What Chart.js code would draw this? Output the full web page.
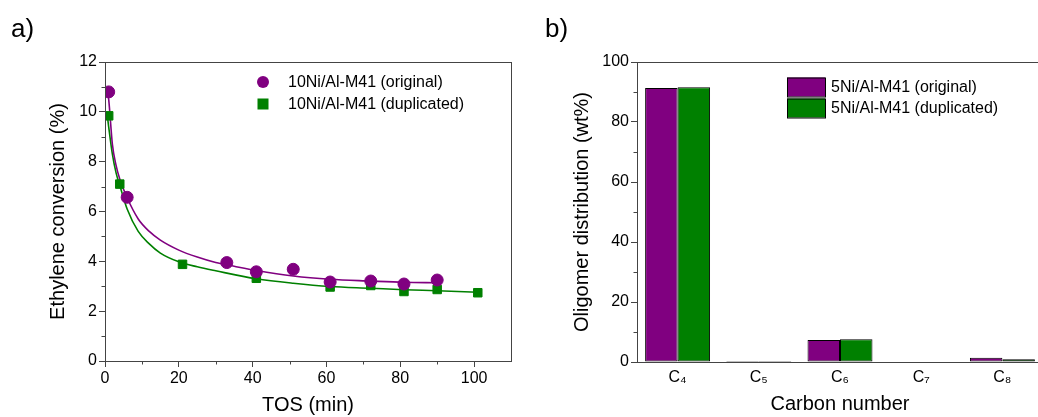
<!DOCTYPE html>
<html>
<head>
<meta charset="utf-8">
<script src="https://cdn.jsdelivr.net/npm/chart.js@4/dist/chart.umd.min.js"></script>
<style>
  html, body { margin: 0; padding: 0; background: #fff; overflow: hidden; width: 1038px; height: 417px; }
  #wrapA { position: absolute; left: 0; top: 0; width: 520px; height: 417px; }
  #wrapB { position: absolute; left: 520px; top: 0; width: 530px; height: 417px; }
  .panel { position: absolute; font-family: "Liberation Sans", Arial, sans-serif; font-size: 26px; line-height: 26px; color: #000; }
</style>
</head>
<body>
<div id="wrapA"><canvas id="chartA" width="520" height="417"></canvas></div>
<div id="wrapB"><canvas id="chartB" width="530" height="417"></canvas></div>
<div class="panel" style="left:11px; top:15px;">a)</div>
<div class="panel" style="left:545px; top:15px;">b)</div>
<script>
// ---------- Panel a) data ----------
const labelOriginalA = "10Ni/Al-M41 (original)";
const labelDuplicatedA = "10Ni/Al-M41 (duplicated)";
const tosOriginal = [1, 6, 33, 41, 51, 61, 72, 81, 90];
const convOriginal = [10.8, 6.57, 3.95, 3.58, 3.68, 3.17, 3.21, 3.09, 3.25];
const tosDuplicated = [1, 4, 21, 41, 61, 72, 81, 90, 101];
const convDuplicated = [9.84, 7.1, 3.88, 3.32, 2.97, 3.03, 2.79, 2.87, 2.74];
// fitted curves
const fitOriginalX = [0.5, 1, 2, 3, 4, 6, 9, 12, 15, 20, 25, 30, 35, 41, 51, 61, 72, 81, 90];
const fitOriginalY = [11.0, 10.5, 8.7, 7.85, 7.3, 6.55, 5.7, 5.2, 4.85, 4.45, 4.17, 3.95, 3.8, 3.63, 3.41, 3.28, 3.21, 3.16, 3.14];
const fitDuplicatedX = [0.5, 1, 2, 3, 4, 6, 9, 12, 15, 20, 25, 30, 41, 51, 61, 72, 81, 90, 101];
const fitDuplicatedY = [10.0, 9.4, 8.3, 7.55, 7.05, 6.1, 5.2, 4.7, 4.33, 3.98, 3.78, 3.62, 3.3, 3.12, 2.99, 2.92, 2.86, 2.82, 2.76];
const xTicksA = [0, 20, 40, 60, 80, 100];
const xMinorA = [10, 30, 50, 70, 90];
const yTicksA = [0, 2, 4, 6, 8, 10, 12];
const yMinorA = [1, 3, 5, 7, 9, 11];

// ---------- Panel b) data ----------
const carbonCategories = ["C\u2084", "C\u2085", "C\u2086", "C\u2087", "C\u2088"];
const labelOriginalB = "5Ni/Al-M41 (original)";
const labelDuplicatedB = "5Ni/Al-M41 (duplicated)";
const distOriginal = [91.3, 0.3, 7.3, 0, 1.45];
const distDuplicated = [91.6, 0.3, 7.6, 0, 0.9];
const yTicksB = [0, 20, 40, 60, 80, 100];
const yMinorB = [10, 30, 50, 70, 90];

const PURPLE = "#800080";
const GREEN = "#008000";
const AXIS = "#444444";
const FONT = "'Liberation Sans', Arial, sans-serif";

function pairs(xs, ys) { return xs.map((x, i) => ({ x: x, y: ys[i] })); }

// frame + minor ticks plugin
const framePlugin = {
  id: "frame",
  afterDraw(chart, args, opts) {
    const { ctx, chartArea: a, scales } = chart;
    ctx.save();
    ctx.strokeStyle = AXIS;
    ctx.lineWidth = 1;
    ctx.strokeRect(Math.round(a.left) + 0.5, Math.round(a.top) + 0.5, Math.round(a.right - a.left), Math.round(a.bottom - a.top));
    ctx.beginPath();
    (opts.minorX || []).forEach(v => {
      const px = Math.round(scales.x.getPixelForValue(v)) + 0.5;
      ctx.moveTo(px, a.bottom); ctx.lineTo(px, a.bottom + 3.5);
    });
    (opts.minorY || []).forEach(v => {
      const py = Math.round(scales.y.getPixelForValue(v)) + 0.5;
      ctx.moveTo(a.left, py); ctx.lineTo(a.left - 3.5, py);
    });
    ctx.stroke();
    ctx.restore();
  }
};

// legend drawn inside the plot
const innerLegend = {
  id: "innerLegend",
  afterDraw(chart, args, opts) {
    const { ctx } = chart;
    ctx.save();
    ctx.font = "16px " + FONT;
    ctx.textBaseline = "middle";
    ctx.textAlign = "left";
    opts.items.forEach((it, i) => {
      const ds = chart.data.datasets[it.dataset];
      const y = opts.y + i * opts.rowGap;
      ctx.fillStyle = ds.backgroundColor;
      if (it.kind === "circle") {
        ctx.beginPath(); ctx.arc(opts.markerX, y, 6, 0, Math.PI * 2); ctx.fill();
      } else if (it.kind === "square") {
        ctx.fillRect(opts.markerX - 5.5, y - 5.5, 11, 11);
      } else {
        ctx.fillRect(opts.markerX, y - opts.boxH / 2, opts.boxW, opts.boxH);
        ctx.strokeStyle = "#000"; ctx.lineWidth = 1;
        ctx.strokeRect(opts.markerX + 0.5, y - opts.boxH / 2 + 0.5, opts.boxW, opts.boxH);
      }
      ctx.fillStyle = "#000";
      ctx.fillText(ds.label, opts.textX, y + 1);
    });
    ctx.restore();
  }
};

Chart.defaults.font.family = FONT;
Chart.defaults.color = "#000";
Chart.defaults.animation = false;

new Chart(document.getElementById("chartA"), {
  type: "scatter",
  data: {
    datasets: [
      { label: labelOriginalA, data: pairs(tosOriginal, convOriginal), backgroundColor: PURPLE, borderColor: PURPLE,
        pointStyle: "circle", pointRadius: 6, pointHoverRadius: 6, showLine: false, order: 1 },
      { label: labelDuplicatedA, data: pairs(tosDuplicated, convDuplicated), backgroundColor: GREEN, borderColor: GREEN,
        pointStyle: "rect", pointRadius: 6, pointHoverRadius: 6, showLine: false, order: 1 },
      { label: "fit original", data: pairs(fitOriginalX, fitOriginalY), borderColor: PURPLE, backgroundColor: PURPLE,
        showLine: true, pointRadius: 0, borderWidth: 1.6, cubicInterpolationMode: "monotone", order: 2 },
      { label: "fit duplicated", data: pairs(fitDuplicatedX, fitDuplicatedY), borderColor: GREEN, backgroundColor: GREEN,
        showLine: true, pointRadius: 0, borderWidth: 1.6, cubicInterpolationMode: "monotone", order: 2 }
    ]
  },
  options: {
    responsive: false,
    layout: { padding: { top: 62, right: 9, left: 0, bottom: 0 } },
    plugins: {
      legend: { display: false },
      tooltip: { enabled: false },
      frame: { minorX: xMinorA, minorY: yMinorA },
      innerLegend: { markerX: 263, textX: 288, y: 82, rowGap: 22,
        items: [{ dataset: 0, kind: "circle" }, { dataset: 1, kind: "square" }] }
    },
    scales: {
      x: {
        type: "linear", min: 0, max: 110,
        afterFit: s => { s.height = 56; },
        afterBuildTicks: s => { s.ticks = xTicksA.map(v => ({ value: v })); },
        grid: { drawOnChartArea: false, drawTicks: true, tickLength: 6, color: AXIS },
        border: { color: AXIS },
        ticks: { font: { size: 16 }, padding: 2, color: "#000", maxRotation: 0 },
        title: { display: true, text: "TOS (min)", font: { size: 20 }, padding: { top: 0, bottom: 0 }, color: "#000" }
      },
      y: {
        type: "linear", min: 0, max: 12,
        afterFit: s => { s.width = 105; },
        afterBuildTicks: s => { s.ticks = yTicksA.map(v => ({ value: v })); },
        grid: { drawOnChartArea: false, drawTicks: true, tickLength: 6, color: AXIS },
        border: { color: AXIS },
        ticks: { font: { size: 16 }, padding: 2, color: "#000" },
        title: { display: true, text: "Ethylene conversion (%)", font: { size: 20 }, padding: { top: 46, bottom: 0 }, color: "#000" }
      }
    }
  },
  plugins: [framePlugin, innerLegend]
});

new Chart(document.getElementById("chartB"), {
  type: "bar",
  data: {
    labels: carbonCategories,
    datasets: [
      { label: labelOriginalB, data: distOriginal, backgroundColor: PURPLE, borderColor: "#000",
        borderWidth: c => (c.raw === 0 ? 0 : 1), borderSkipped: false },
      { label: labelDuplicatedB, data: distDuplicated, backgroundColor: GREEN, borderColor: "#000",
        borderWidth: c => (c.raw === 0 ? 0 : 1), borderSkipped: false }
    ]
  },
  options: {
    responsive: false,
    layout: { padding: { top: 62, right: 7, left: 0, bottom: 0 } },
    datasets: { bar: { categoryPercentage: 0.8, barPercentage: 1.0 } },
    plugins: {
      legend: { display: false },
      tooltip: { enabled: false },
      frame: { minorY: yMinorB },
      innerLegend: { markerX: 267, textX: 311, y: 87, rowGap: 21, boxW: 38, boxH: 19,
        items: [{ dataset: 0, kind: "box" }, { dataset: 1, kind: "box" }] }
    },
    scales: {
      x: {
        afterFit: s => { s.height = 55; },
        grid: { display: true, drawOnChartArea: false, drawTicks: false, color: AXIS },
        border: { color: AXIS },
        ticks: { font: { size: 16 }, padding: 6, color: "#000", maxRotation: 0 },
        title: { display: true, text: "Carbon number", font: { size: 20 }, padding: { top: 0, bottom: 1 }, color: "#000" }
      },
      y: {
        min: 0, max: 100,
        afterFit: s => { s.width = 117; },
        afterBuildTicks: s => { s.ticks = yTicksB.map(v => ({ value: v })); },
        grid: { drawOnChartArea: false, drawTicks: true, tickLength: 6, color: AXIS },
        border: { color: AXIS },
        ticks: { font: { size: 16 }, padding: 2, color: "#000" },
        title: { display: true, text: "Oligomer distribution (wt%)", font: { size: 20 }, padding: { top: 50, bottom: 0 }, color: "#000" }
      }
    }
  },
  plugins: [framePlugin, innerLegend]
});
</script>
</body>
</html>
